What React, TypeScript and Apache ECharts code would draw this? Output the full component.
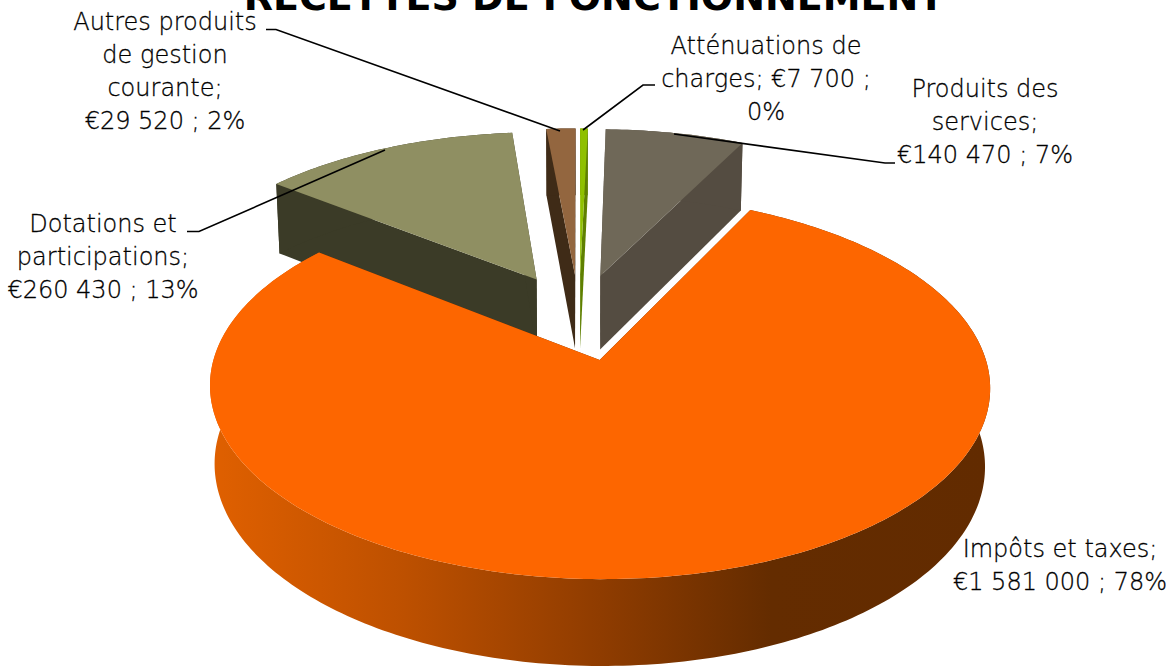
import React, { useEffect, useRef } from "react";
import * as echarts from "echarts";

const categories = ["Produits des services", "Impôts et taxes", "Dotations et participations", "Autres produits de gestion courante", "Atténuations de charges"];
const values = [140470, 1581000, 260430, 29520, 7700];
const labelTexts = [
  "Produits des\nservices;\n€140 470 ; 7%",
  "Impôts et taxes;\n€1 581 000 ; 78%",
  "Dotations et\nparticipations;\n€260 430 ; 13%",
  "Autres produits\nde gestion\ncourante;\n€29 520 ; 2%",
  "Atténuations de\ncharges; €7 700 ;\n0%",
];
const topColors = ["#6f6858", "#fd6600", "#8f8f62", "#93663f", "#8fc000"];
const wallColors = ["#544c41", "#642c00", "#3b3b27", "#3f2b17", "#5f8000"];
const drawOrder = [2, 3, 4, 0, 1];
const titleText = "RECETTES DE FONCTIONNEMENT";

const FONT = "DejaVu Sans";
const CX = 579, CY = 316.5, R = 373.8, RY = 176.5, K = 0.135, M = 0.012, DEPTH = 76.5, EXPLODE = 0.245, START = 1.4;

const total = values.reduce((a, b) => a + b, 0);
const rad = (d: number) => (d * Math.PI) / 180;
const sliceAngles = (() => {
  let a = START;
  return values.map((v) => {
    const s = a;
    a += (v / total) * 360;
    return [s, a];
  });
})();

function project(X: number, Y: number, z: number) {
  const w = 1 + K * Y + M * z;
  return [CX + (R * X) / w, CY + (-RY * Y + DEPTH * z) / w];
}

function renderSlice(params: any) {
  const i = drawOrder[params.dataIndex];
  const [s, e] = sliceAngles[i];
  const mid = rad((s + e) / 2);
  const ox = EXPLODE * Math.sin(mid);
  const oy = EXPLODE * Math.cos(mid);
  const n = Math.max(4, Math.ceil((e - s) / 1));
  const rim: number[][] = [];
  for (let k = 0; k <= n; k++) {
    const a = rad(s + ((e - s) * k) / n);
    rim.push([ox + Math.sin(a), oy + Math.cos(a)]);
  }
  const top = rim.map((p) => project(p[0], p[1], 0));
  const bot = rim.map((p) => project(p[0], p[1], 1));
  const apexT = project(ox, oy, 0);
  const apexB = project(ox, oy, 1);
  const flat = { fill: wallColors[i] };
  const children: any[] = [
    { type: "polygon", shape: { points: [apexT, top[0], bot[0], apexB] }, style: flat },
    { type: "polygon", shape: { points: [apexT, top[n], bot[n], apexB] }, style: flat },
  ];
  const outerFill =
    i === 1
      ? new echarts.graphic.LinearGradient(0, 0, 1, 0, [
          { offset: 0, color: "#e06000" },
          { offset: 0.25, color: "#bd5000" },
          { offset: 0.5, color: "#8f3c00" },
          { offset: 0.72, color: "#642c00" },
          { offset: 1, color: "#622b00" },
        ])
      : wallColors[i];
  children.push({
    type: "polygon",
    shape: { points: top.concat(bot.slice().reverse()) },
    style: { fill: outerFill },
  });
  children.push({
    type: "polygon",
    shape: { points: [apexT, ...top] },
    style: { fill: topColors[i] },
  });
  return { type: "group", children };
}

const label = (text: string, x: number, y: number, align = "center") => ({
  type: "text",
  z: 20,
  style: {
    text,
    x,
    y,
    textAlign: align,
    textVerticalAlign: "top",
    fontFamily: FONT,
    fontWeight: 200,
    fontSize: 24,
    lineHeight: 33,
    fill: "#000",
    stroke: "#000",
    lineWidth: 0.3,
  },
});

const leader = (points: number[][]) => ({
  type: "polyline",
  z: 20,
  shape: { points },
  style: { stroke: "#000", lineWidth: 1.6, fill: "none" },
});

export default function App() {
  const ref = useRef<HTMLDivElement>(null);
  useEffect(() => {
    document.body.style.margin = "0";
    const chart = echarts.init(ref.current!, null, { renderer: "svg" });
    chart.setOption({
      animation: false,
      backgroundColor: "#fff",
      series: [
        {
          type: "custom",
          coordinateSystem: "none",
          silent: true,
          clip: false,
          data: drawOrder.map((i) => ({ name: categories[i], value: [values[i]] })),
          renderItem: renderSlice,
        },
      ],
      graphic: {
        elements: [
          {
            type: "text",
            z: 5,
            style: {
              text: titleText,
              x: 594,
              y: 16,
              textAlign: "center",
              textVerticalAlign: "bottom",
              fontFamily: FONT,
              fontWeight: 700,
              fontSize: 38,
              fill: "#000",
            },
          },
          label(labelTexts[3], 165, 5),
          label(labelTexts[4], 766, 29),
          label(labelTexts[0], 985, 72),
          label(labelTexts[2], 103, 207),
          label(labelTexts[1], 1060, 532),
          leader([[266, 29.5], [276, 29.5], [560, 131]]),
          leader([[187, 231.5], [199, 231.5], [385, 150]]),
          leader([[655, 85], [643, 85], [583, 130]]),
          leader([[895, 163], [885, 163], [674, 134]]),
        ],
      },
    });
    return () => chart.dispose();
  }, []);
  return <div ref={ref} style={{ width: 1171, height: 666 }} />;
}
